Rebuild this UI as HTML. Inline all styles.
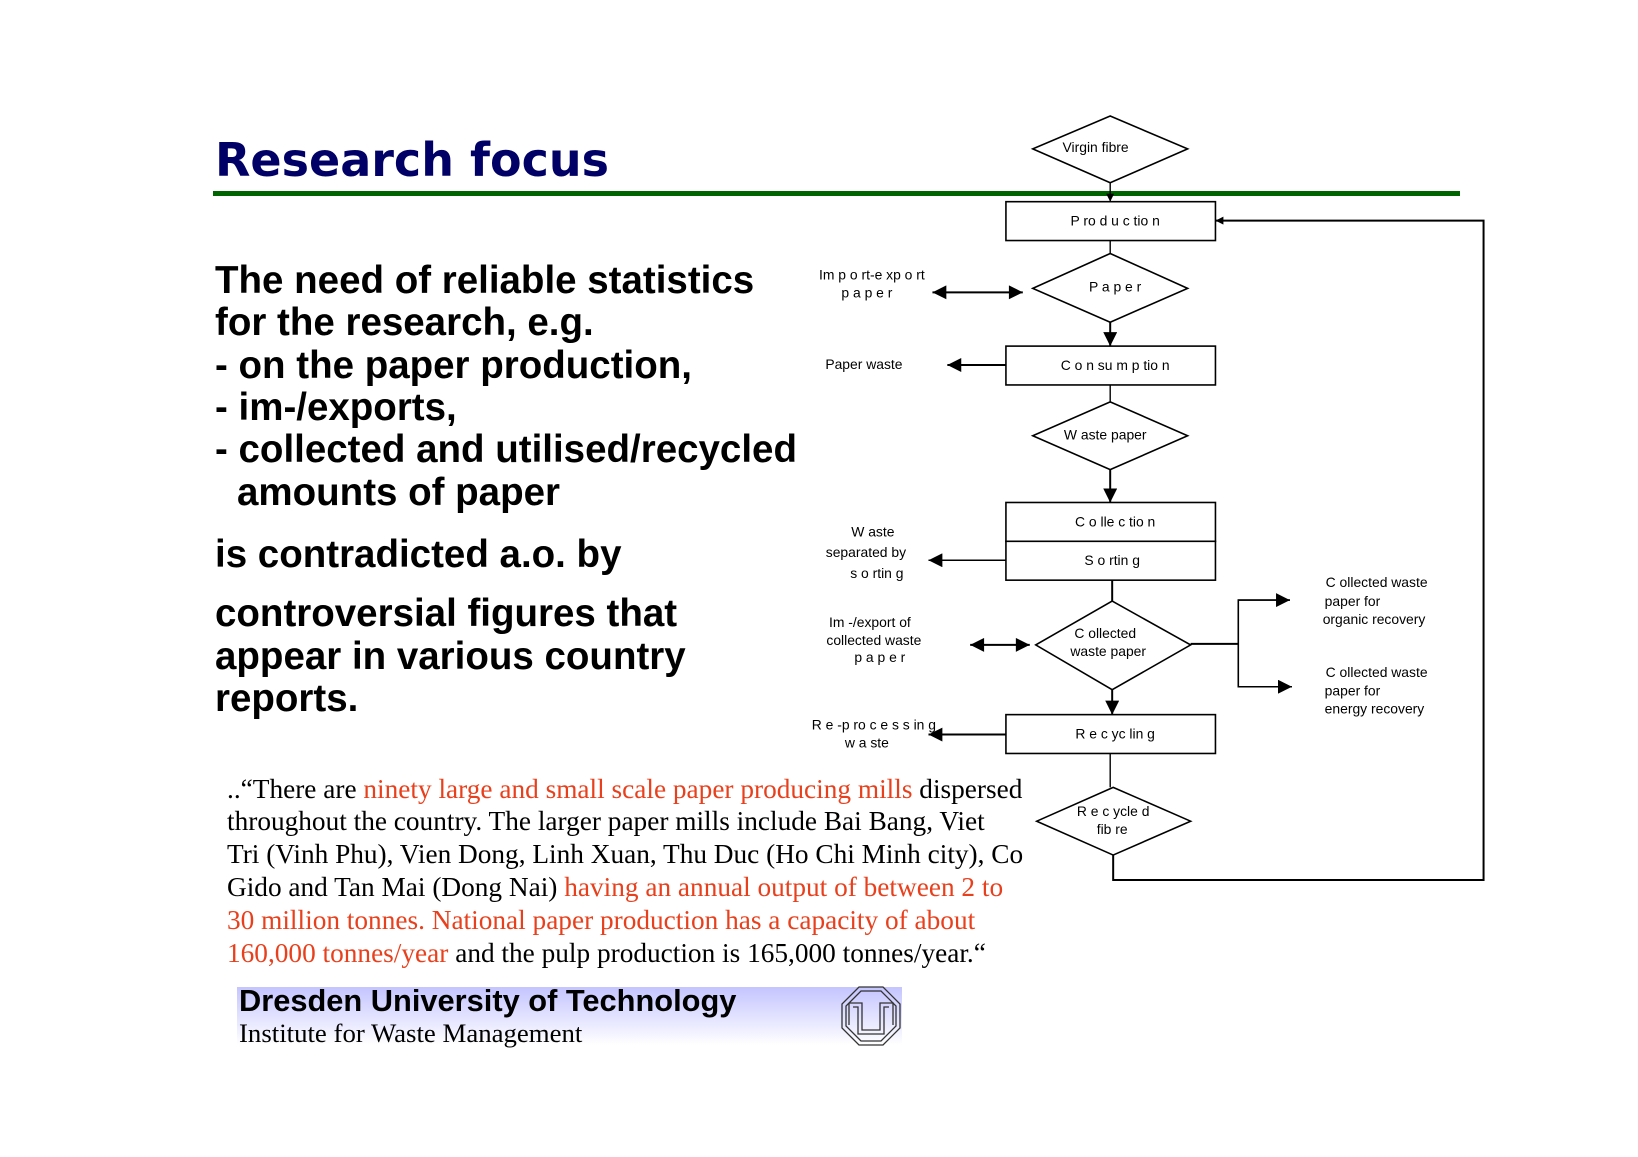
<!DOCTYPE html>
<html><head><meta charset="utf-8"><style>
html,body{margin:0;padding:0;background:#fff;}
body{width:1638px;height:1157px;position:relative;overflow:hidden;}
</style></head><body>
<svg width="1638" height="1157" viewBox="0 0 1638 1157" xmlns="http://www.w3.org/2000/svg" style="position:absolute;left:0;top:0">
<defs>
<marker id="a" viewBox="0 0 10 10" refX="10" refY="5" markerWidth="8" markerHeight="8" orient="auto-start-reverse" markerUnits="userSpaceOnUse"><path d="M0,0 L10,5 L0,10 z" fill="#000"/></marker>
<marker id="b" viewBox="0 0 10 10" refX="10" refY="5" markerWidth="18" markerHeight="14" orient="auto-start-reverse" markerUnits="userSpaceOnUse"><path d="M0,0 L10,5 L0,10 z" fill="#000"/></marker>
<linearGradient id="g" x1="0" y1="0" x2="0" y2="1"><stop offset="0" stop-color="#c4c4ff"/><stop offset="1" stop-color="#ffffff"/></linearGradient>
</defs>
<text x="215" y="176" font-family="DejaVu Sans, sans-serif" font-weight="bold" font-size="46" fill="#000066">Research focus</text>
<rect x="213" y="191" width="1247" height="5" fill="#006400"/>
<g font-family="Liberation Sans, sans-serif" font-weight="bold" font-size="38.5" fill="#000">
<text x="215" y="293">The need of reliable statistics</text>
<text x="215" y="335">for the research, e.g.</text>
<text x="215" y="378">- on the paper production,</text>
<text x="215" y="420">- im-/exports,</text>
<text x="215" y="462">- collected and utilised/recycled</text>
<text x="237" y="505">amounts of paper</text>
<text x="215" y="567">is contradicted a.o. by</text>
<text x="215" y="626">controversial figures that</text>
<text x="215" y="669">appear in various country</text>
<text x="215" y="711">reports.</text>
</g>
<g font-family="Liberation Serif, serif" font-size="27.3" fill="#000">
<text x="227" y="798">..“There are <tspan fill="#e8401c">ninety large and small scale paper producing mills</tspan> dispersed</text>
<text x="227" y="830">throughout the country. The larger paper mills include Bai Bang, Viet</text>
<text x="227" y="863">Tri (Vinh Phu), Vien Dong, Linh Xuan, Thu Duc (Ho Chi Minh city), Co</text>
<text x="227" y="896">Gido and Tan Mai (Dong Nai) <tspan fill="#e8401c">having an annual output of between 2 to</tspan></text>
<text x="227" y="929" fill="#e8401c">30 million tonnes. National paper production has a capacity of about</text>
<text x="227" y="962"><tspan fill="#e8401c">160,000 tonnes/year</tspan> and the pulp production is 165,000 tonnes/year.“</text>
</g>
<g transform="translate(0,-5)">
<rect x="237" y="992" width="665" height="58" fill="url(#g)"/>
<text x="239" y="1016" font-family="Liberation Sans, sans-serif" font-weight="bold" font-size="30.8">Dresden University of Technology</text>
<text x="239" y="1047" font-family="Liberation Serif, serif" font-size="26.8">Institute for Waste Management</text>
<g fill="none" stroke="#333" stroke-width="1.3" transform="translate(-3,0)">
<polygon points="862,992 886,992 903,1009 903,1033 886,1050 862,1050 845,1033 845,1009"/>
<polygon points="864,996 884,996 899,1011 899,1031 884,1046 864,1046 849,1031 849,1011"/>
<path d="M852,1008 H865 V1035 H883 V1008 H896 V1030 M852,1008 V1030"/>
<path d="M856,1012 H861 V1039 H887 V1012 H892"/>
</g>
</g>
<g transform="translate(3,-0.5) scale(0.993,0.996)">
<g fill="#fff" stroke="#000" stroke-width="1.6">
<polygon points="1115,117 1193,150 1115,184 1037,150"/>
<rect x="1010" y="203" width="211" height="39"/>
<polygon points="1115,255 1193,290 1115,324 1037,290"/>
<rect x="1010" y="348" width="211" height="39"/>
<polygon points="1115,404 1193,438 1115,472 1037,438"/>
<rect x="1010" y="505" width="211" height="39"/>
<rect x="1010" y="544" width="211" height="39"/>
<polygon points="1117,604 1196,648 1117,693 1040,648"/>
<rect x="1010" y="718" width="211" height="39"/>
<polygon points="1118,791 1196,825 1118,859 1041,825"/>
</g>
<g stroke="#000" stroke-width="1.4" fill="none">
<line x1="1115" y1="184" x2="1115" y2="203" marker-end="url(#a)"/>
<line x1="1115" y1="242" x2="1115" y2="255"/>
<line x1="1115" y1="324" x2="1115" y2="348" stroke-width="2" marker-end="url(#b)"/>
<line x1="1115" y1="387" x2="1115" y2="404"/>
<line x1="1115" y1="472" x2="1115" y2="505" stroke-width="2" marker-end="url(#b)"/>
<line x1="1117" y1="583" x2="1117" y2="604" stroke-width="2"/>
<line x1="1117" y1="693" x2="1117" y2="718" stroke-width="2" marker-end="url(#b)"/>
<line x1="1115" y1="757" x2="1115" y2="791"/>
<polyline points="1118,859 1118,884 1491,884 1491,222 1221,222" stroke-width="2" marker-end="url(#a)"/>
<line x1="936" y1="294" x2="1027" y2="294" stroke-width="2" marker-start="url(#b)" marker-end="url(#b)"/>
<line x1="1010" y1="367" x2="951" y2="367" stroke-width="2" marker-end="url(#b)"/>
<line x1="1010" y1="563" x2="932" y2="563" marker-end="url(#b)"/>
<line x1="974" y1="648" x2="1034" y2="648" stroke-width="2" marker-start="url(#b)" marker-end="url(#b)"/>
<line x1="1010" y1="738" x2="932" y2="738" stroke-width="2" marker-end="url(#b)"/>
<line x1="1196" y1="647" x2="1244" y2="647" stroke-width="2"/>
<polyline points="1296,603 1244,603 1244,690 1298,690" stroke-width="1.6"/>
<line x1="1244" y1="603" x2="1296" y2="603" marker-end="url(#b)"/>
<line x1="1244" y1="690" x2="1298" y2="690" marker-end="url(#b)"/>
</g>
<g font-family="Liberation Sans, sans-serif" font-size="14" fill="#000">
<text x="1067" y="153">Virgin fibre</text>
<text x="1120" y="227" text-anchor="middle">P ro d u c tio n</text>
<text x="1120" y="293" text-anchor="middle">P a p e r</text>
<text x="1120" y="372" text-anchor="middle">C o n su m p tio n</text>
<text x="1110" y="442" text-anchor="middle">W aste paper</text>
<text x="1120" y="529" text-anchor="middle">C o lle c tio n</text>
<text x="1117" y="568" text-anchor="middle">S o rtin g</text>
<text x="1110" y="641" text-anchor="middle">C ollected</text>
<text x="1113" y="659" text-anchor="middle">waste paper</text>
<text x="1120" y="742" text-anchor="middle">R e c yc lin g</text>
<text x="1118" y="820" text-anchor="middle">R e c ycle d</text>
<text x="1117" y="838" text-anchor="middle">fib re</text>
<text x="875" y="281" text-anchor="middle">Im p o rt-e xp o rt</text>
<text x="870" y="299" text-anchor="middle">p a p e r</text>
<text x="867" y="371" text-anchor="middle">Paper waste</text>
<text x="876" y="539" text-anchor="middle">W aste</text>
<text x="869" y="560" text-anchor="middle">separated by</text>
<text x="880" y="581" text-anchor="middle">s o rtin g</text>
<text x="873" y="630" text-anchor="middle">Im -/export of</text>
<text x="877" y="648" text-anchor="middle">collected waste</text>
<text x="883" y="665" text-anchor="middle">p a p e r</text>
<text x="877" y="733" text-anchor="middle">R e -p ro c e s s in g</text>
<text x="870" y="751" text-anchor="middle">w a ste</text>
<text x="1332" y="590">C ollected waste</text>
<text x="1331" y="609">paper for</text>
<text x="1329" y="627">organic recovery</text>
<text x="1332" y="680">C ollected waste</text>
<text x="1331" y="699">paper for</text>
<text x="1331" y="717">energy recovery</text>
</g>
</g>
</svg>
</body></html>
